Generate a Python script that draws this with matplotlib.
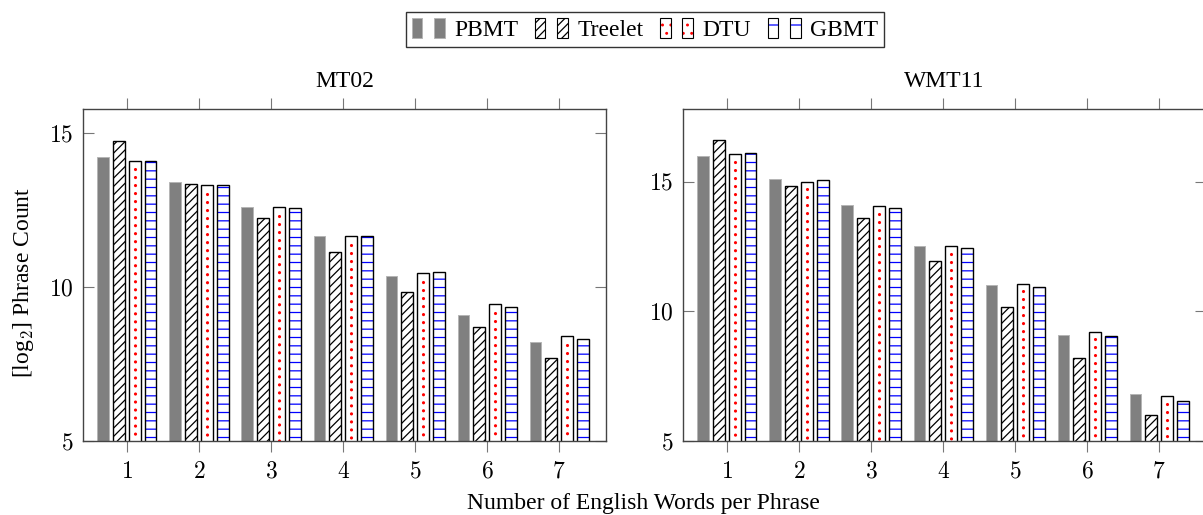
import matplotlib

matplotlib.use("Agg")
import matplotlib.pyplot as plt
import numpy as np
from matplotlib.legend_handler import HandlerTuple
from matplotlib.patches import Patch

plt.rcParams["font.family"] = ["Liberation Serif", "DejaVu Serif"]
plt.rcParams["mathtext.fontset"] = "cm"
plt.rcParams["hatch.linewidth"] = 0.9

words = [1, 2, 3, 4, 5, 6, 7]
systems = ["PBMT", "Treelet", "DTU", "GBMT"]

mt02_pbmt = [14.22, 13.4, 12.6, 11.65, 10.35, 9.1, 8.2]
mt02_treelet = [14.75, 13.35, 12.25, 11.15, 9.85, 8.7, 7.7]
mt02_dtu = [14.1, 13.3, 12.6, 11.65, 10.45, 9.45, 8.4]
mt02_gbmt = [14.1, 13.3, 12.55, 11.65, 10.5, 9.35, 8.3]

wmt11_pbmt = [16.0, 15.1, 14.1, 12.5, 11.0, 9.1, 6.8]
wmt11_treelet = [16.6, 14.85, 13.6, 11.95, 10.15, 8.2, 6.0]
wmt11_dtu = [16.05, 15.0, 14.05, 12.5, 11.05, 9.2, 6.72]
wmt11_gbmt = [16.1, 15.05, 14.0, 12.45, 10.95, 9.05, 6.55]

FRAME = "#444444"
FS = 17
W = 0.16
OFFS = [-0.33, -0.11, 0.11, 0.33]


def draw_panel(ax, series, title, ymax):
    x = np.array(words, dtype=float)
    pb, tr, dt, gb = [np.array(s) for s in series]
    ax.bar(x + OFFS[0], pb, W, color="#808080", edgecolor="#b5b5b5", linewidth=0.7)
    ax.bar(x + OFFS[1], tr, W, color="white", edgecolor="black", hatch="////", linewidth=1.0)
    ax.bar(x + OFFS[2], dt, W, color="white", edgecolor="black", linewidth=1.0)
    lc = ax.vlines(x + OFFS[2], dt - 0.28, 5, colors="red", linewidth=2.3,
                   linestyles=[(0, (0.01, 2.5))])
    lc.set_capstyle("round")
    ax.bar(x + OFFS[3], gb, W, color="white", edgecolor="blue", hatch="--", linewidth=0)
    ax.bar(x + OFFS[3], gb, W, fill=False, edgecolor="black", linewidth=1.0)

    ax.set_xlim(0.39, 7.65)
    ax.set_ylim(5, ymax)
    ax.set_xticks(words)
    ax.set_xticklabels([f"${w}$" for w in words])
    ax.set_yticks([5, 10, 15])
    ax.set_yticklabels(["$5$", "$10$", "$15$"])
    ax.tick_params(axis="x", direction="out", top=True, bottom=True, length=8,
                   color="#777777", labelsize=FS, pad=7)
    ax.tick_params(axis="y", direction="in", left=True, right=True, length=8,
                   color="#777777", labelsize=FS, pad=7)
    for s in ax.spines.values():
        s.set_color(FRAME)
        s.set_linewidth(1.0)
    ax.set_title(title, fontsize=FS, pad=16)


fig = plt.figure(figsize=(12.03, 5.15), dpi=100)
ax1 = fig.add_axes([83 / 1203, 74 / 515, 523 / 1203, 332 / 515])
ax2 = fig.add_axes([683 / 1203, 74 / 515, 523 / 1203, 332 / 515])

draw_panel(ax1, [mt02_pbmt, mt02_treelet, mt02_dtu, mt02_gbmt], "MT02", 15.78)
draw_panel(ax2, [wmt11_pbmt, wmt11_treelet, wmt11_dtu, wmt11_gbmt], "WMT11", 17.8)

fig.text(23 / 1203, 1 - 282 / 515, "[log$_2$] Phrase Count", rotation=90,
         ha="center", va="center", fontsize=FS)
fig.text(643 / 1203, 1 - 503 / 515, "Number of English Words per Phrase",
         ha="center", va="center", fontsize=FS)

# legend handles: two small bars each, as pgfplots draws them
h_pb = Patch(facecolor="#808080", edgecolor="#b5b5b5", linewidth=0.7)
h_tr = Patch(facecolor="white", edgecolor="black", hatch="////", linewidth=0.8)
h_dt_a = Patch(facecolor="white", edgecolor="red", hatch="..", linewidth=0)
h_dt_b = Patch(fill=False, edgecolor="black", linewidth=0.8)
h_gb_a = Patch(facecolor="white", edgecolor="blue", hatch="-", linewidth=0)
h_gb_b = Patch(fill=False, edgecolor="black", linewidth=0.8)

handles = [(h_pb, h_pb), (h_tr, h_tr), ((h_dt_a, h_dt_b), (h_dt_a, h_dt_b)),
           ((h_gb_a, h_gb_b), (h_gb_a, h_gb_b))]
hmap = {h: HandlerTuple(ndivide=2, pad=0.5) for h in handles}
leg = fig.legend(handles, systems, loc="upper center", ncol=4,
                 bbox_to_anchor=(645 / 1203, 1 - 12 / 515), fontsize=FS,
                 handler_map=hmap, handlelength=1.4, handleheight=0.9,
                 handletextpad=0.4, columnspacing=0.7, borderpad=0.25,
                 borderaxespad=0, fancybox=False, framealpha=1, edgecolor="#333333")
leg.get_frame().set_linewidth(1.0)

fig.savefig("out.png", dpi=100)
